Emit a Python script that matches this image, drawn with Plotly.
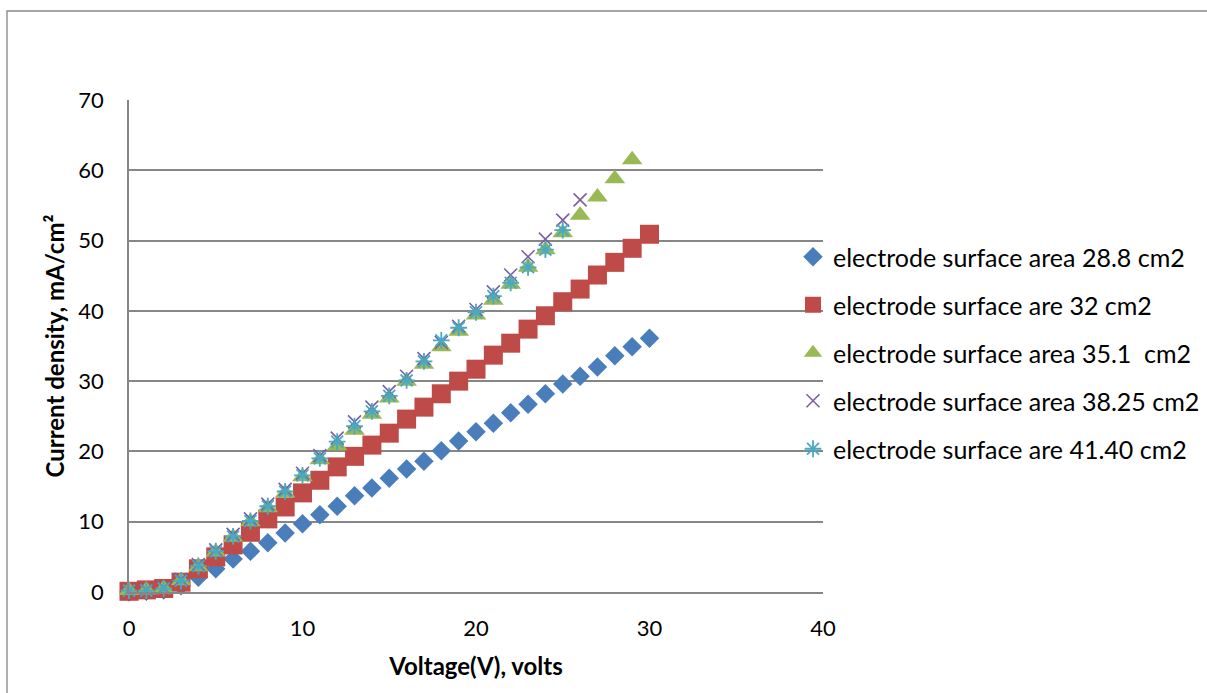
import plotly.graph_objects as go

# Voltage steps (V)
volts_30 = list(range(0, 31))
volts_29 = list(range(0, 30))
volts_26 = list(range(0, 27))
volts_25 = list(range(0, 26))

# Current density (mA/cm2) for each electrode surface area
area_28_8 = [0.0, 0.1, 0.3, 0.9, 2.1, 3.3, 4.7, 5.8, 7.0, 8.4, 9.7, 11.0, 12.2, 13.7, 14.8,
             16.2, 17.5, 18.6, 20.1, 21.5, 22.8, 24.0, 25.5, 26.7, 28.2, 29.6, 30.7, 32.0,
             33.6, 34.9, 36.1]
area_32 = [0.1, 0.3, 0.5, 1.4, 3.3, 5.0, 6.7, 8.5, 10.4, 12.1, 14.1, 15.9, 17.8, 19.3, 20.9,
           22.6, 24.6, 26.3, 28.2, 30.0, 31.7, 33.7, 35.4, 37.4, 39.3, 41.3, 43.1, 45.1,
           46.9, 48.9, 50.9]
area_35_1 = [0.2, 0.3, 0.5, 1.6, 3.6, 5.7, 7.8, 10.0, 12.0, 14.1, 16.4, 18.8, 20.8, 23.0,
             25.3, 27.6, 30.0, 32.4, 34.9, 37.1, 39.4, 41.5, 43.8, 46.2, 48.7, 51.1, 53.6,
             56.2, 58.8, 61.5]
area_38_25 = [0.2, 0.3, 0.6, 1.8, 3.9, 6.0, 8.2, 10.4, 12.5, 14.6, 16.9, 19.4, 21.9, 24.2,
              26.3, 28.5, 30.7, 33.2, 35.5, 37.8, 40.2, 42.7, 45.1, 47.7, 50.2, 52.9, 55.8]
area_41_40 = [0.2, 0.2, 0.5, 1.6, 3.7, 5.8, 7.9, 10.1, 12.2, 14.3, 16.6, 19.0, 21.4, 23.6,
              25.7, 27.9, 30.1, 32.8, 35.8, 37.6, 39.8, 42.1, 44.0, 46.2, 48.7, 51.5]

names = [
    "electrode surface area 28.8 cm2",
    "electrode surface are 32 cm2",
    "electrode surface area 35.1  cm2",
    "electrode surface area 38.25 cm2",
    "electrode surface are 41.40 cm2",
]

FONT = "Lato, 'Open Sans', sans-serif"
fig = go.Figure()

series = [
    (volts_30, area_28_8, dict(symbol="diamond", size=15, color="#4a7ebb")),
    (volts_30, area_32, dict(symbol="square", size=19, color="#be4b48")),
    (volts_29, area_35_1, dict(symbol="triangle-up", size=18, color="#98b954")),
    (volts_26, area_38_25, dict(symbol="x-thin-open", size=13, color="#7d5fa0",
                                line=dict(width=1.6, color="#7d5fa0"))),
    (volts_25, area_41_40, dict(symbol="asterisk-open", size=14, color="#46aac5",
                                line=dict(width=1.8, color="#46aac5"))),
]

for i, (xs, ys, mk) in enumerate(series):
    fig.add_trace(go.Scatter(
        x=xs, y=ys, mode="markers", name=names[i], marker=mk,
        legendgroup=f"g{i}", cliponaxis=False,
    ))

W, H = 1207, 693
L, R, T, B = 129, 384, 100, 101
pw, ph = W - L - R, H - T - B

fig.update_layout(
    width=W, height=H,
    margin=dict(l=L, r=R, t=T, b=B, autoexpand=False),
    paper_bgcolor="white", plot_bgcolor="white",
    font=dict(family=FONT, size=22, color="#000000"),
    showlegend=True,
    legend=dict(
        x=(793 - L) / pw, y=(592 - 234) / ph, xanchor="left", yanchor="top",
        font=dict(size=25, family=FONT), tracegroupgap=12.5,
        itemwidth=30, bgcolor="rgba(0,0,0,0)",
    ),
    xaxis=dict(
        range=[0, 40], tickvals=[0, 10, 20, 30, 40], showgrid=False,
        zeroline=False, showline=True, linecolor="#868686", linewidth=1.5,
        ticks="", ticklabelstandoff=16, tickfont=dict(size=22, family=FONT),
        title=dict(text="<b>Voltage(V), volts</b>", font=dict(size=24, family=FONT), standoff=18),
    ),
    yaxis=dict(
        range=[0, 70], tickvals=[0, 10, 20, 30, 40, 50, 60, 70], showgrid=True,
        gridcolor="#868686", gridwidth=1.5, zeroline=False, showline=True,
        linecolor="#868686", linewidth=1.5, ticks="", ticklen=0,
        ticklabelstandoff=19, tickfont=dict(size=22, family=FONT),
        title=dict(text="<b>Current density, mA/cm²</b>", font=dict(size=24, family=FONT), standoff=7),
    ),
    shapes=[dict(
        type="rect", xref="paper", yref="paper",
        x0=(7 - L) / pw, x1=(1215 - L) / pw,
        y0=(592 - 700) / ph, y1=(592 - 11) / ph,
        line=dict(color="#868686", width=1.3), fillcolor="rgba(0,0,0,0)", layer="below",
    )],
)

fig.write_html("out.html")
